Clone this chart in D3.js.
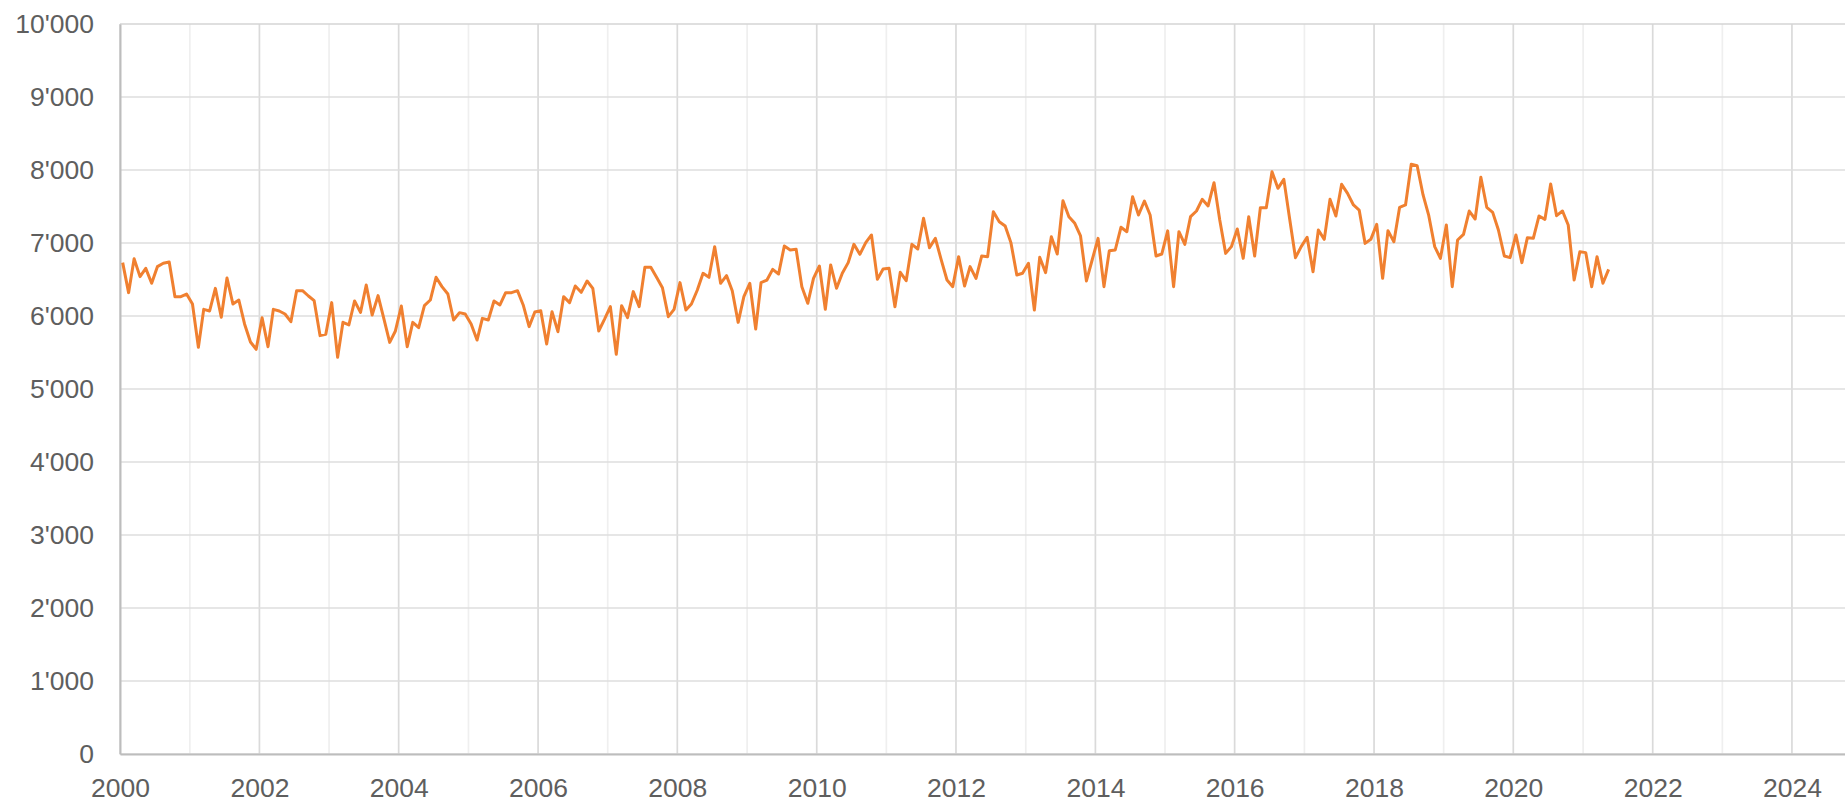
<!DOCTYPE html>
<html>
<head>
<meta charset="utf-8">
<script src="https://cdn.jsdelivr.net/npm/d3@7"></script>
<style>
  body { margin: 0; background: #fff; }
  svg { display: block; }
  text { font-family: "Liberation Sans", Arial, sans-serif; fill: #5e5e5e; }
</style>
</head>
<body>
<svg id="chart" width="1845" height="803"></svg>
<script>
// valori mensili, da gennaio 2000 a maggio 2021
var startYear = 2000;
var valori = [
  6731, 6320, 6785, 6539, 6653, 6448, 6676, 6722, 6740, 6265, 6265, 6301,
  6164, 5571, 6091, 6069, 6379, 5982, 6521, 6164, 6219, 5891, 5644, 5544,
  5977, 5580, 6091, 6069, 6027, 5922, 6347, 6347, 6274, 6210, 5731, 5749,
  6183, 5434, 5913, 5877, 6206, 6050, 6425, 6014, 6279, 5968, 5639, 5795,
  6137, 5580, 5913, 5840, 6142, 6219, 6530, 6402, 6301, 5945, 6046, 6027,
  5891, 5671, 5968, 5945, 6206, 6151, 6320, 6320, 6347, 6151, 5854, 6055,
  6073, 5617, 6059, 5785, 6265, 6183, 6411, 6324, 6480, 6379, 5795, 5954,
  6128, 5475, 6142, 5977, 6334, 6128, 6667, 6667, 6526, 6388, 5991, 6091,
  6457, 6082, 6164, 6356, 6585, 6530, 6950, 6448, 6553, 6347, 5913, 6265,
  6448, 5822, 6457, 6493, 6639, 6575, 6959, 6904, 6913, 6402, 6174, 6516,
  6685, 6091, 6699, 6379, 6585, 6731, 6982, 6845, 7005, 7110, 6502, 6644,
  6653, 6128, 6598, 6484, 6982, 6918, 7338, 6936, 7064, 6776, 6493, 6402,
  6813, 6411, 6676, 6516, 6822, 6813, 7429, 7292, 7233, 7005, 6562, 6585,
  6722, 6082, 6804, 6594, 7087, 6849, 7580, 7361, 7269, 7096, 6480, 6767,
  7064, 6402, 6895, 6904, 7215, 7155, 7635, 7384, 7575, 7384, 6822, 6849,
  7166, 6402, 7155, 6982, 7361, 7438, 7598, 7507, 7826, 7315, 6858, 6950,
  7192, 6790, 7361, 6822, 7484, 7484, 7977, 7749, 7872, 7338, 6799, 6950,
  7078, 6607, 7178, 7050, 7598, 7370, 7804, 7680, 7521, 7452, 6995, 7050,
  7255, 6516, 7169, 7018, 7489, 7521, 8078, 8059, 7658, 7374, 6950, 6790,
  7247, 6402, 7041, 7119, 7438, 7329, 7900, 7489, 7420, 7178, 6822, 6799,
  7110, 6731, 7073, 7064, 7370, 7324, 7808, 7374, 7438, 7247, 6493, 6881,
  6868, 6402, 6813, 6448, 6639
];
var anniTick = [2000, 2002, 2004, 2006, 2008, 2010, 2012, 2014, 2016, 2018, 2020, 2022, 2024];
var valoriTick = [0, 1000, 2000, 3000, 4000, 5000, 6000, 7000, 8000, 9000, 10000];

var dati = valori.map(function (v, i) {
  return { data: new Date(startYear + Math.floor(i / 12), i % 12, 15), valore: v };
});

// margini del grafico
var margineSx = 120, margineSu = 24, margineGiu = 754;
var svg = d3.select("#chart");

var x = d3.scaleTime()
  .domain([new Date(2000, 0, 1), new Date(2025, 0, 1)])
  .range([margineSx, margineSx + 25 * 69.67]);
var y = d3.scaleLinear().domain([0, 10000]).range([margineGiu, margineSu]);

var locale = d3.formatLocale({ decimal: ".", thousands: "'", grouping: [3], currency: ["", ""] });
var fmt = locale.format(",d");

// griglia verticale: anni pari piu scuri
var anni = d3.range(2000, 2026);
svg.append("g").selectAll("line")
  .data(anni)
  .enter().append("line")
  .attr("x1", function (d) { return x(new Date(d, 0, 1)); })
  .attr("x2", function (d) { return x(new Date(d, 0, 1)); })
  .attr("y1", margineSu).attr("y2", margineGiu)
  .attr("stroke", function (d) { return d % 2 == 0 ? "#dadada" : "#efefef"; })
  .attr("stroke-width", 1.7);

// griglia orizzontale
svg.append("g").selectAll("line")
  .data(valoriTick)
  .enter().append("line")
  .attr("x1", margineSx).attr("x2", 1845)
  .attr("y1", function (d) { return y(d); })
  .attr("y2", function (d) { return y(d); })
  .attr("stroke", function (d) { return d == 10000 ? "#d4d4d4" : "#dedede"; })
  .attr("stroke-width", 1.7);

// asse y
var assey = svg.append("g")
  .attr("transform", "translate(" + margineSx + ",0)")
  .call(d3.axisLeft(y).tickValues(valoriTick).tickFormat(fmt).tickSize(0).tickPadding(26));
assey.select(".domain").attr("stroke", "#bdbdbd").attr("stroke-width", 2);
assey.selectAll("text").attr("font-size", 26.5).attr("fill", "#5e5e5e")
  .attr("font-family", "Liberation Sans, Arial, sans-serif");

// asse x
var assex = svg.append("g")
  .attr("transform", "translate(0," + margineGiu + ")")
  .call(d3.axisBottom(x)
    .tickValues(anniTick.map(function (a) { return new Date(a, 0, 1); }))
    .tickFormat(d3.timeFormat("%Y")).tickSize(0).tickPadding(24));
assex.select(".domain").attr("stroke", "#bdbdbd").attr("stroke-width", 2);
assex.selectAll("text").attr("font-size", 26.5).attr("fill", "#5e5e5e")
  .attr("font-family", "Liberation Sans, Arial, sans-serif");

// linea dei dati
var linea = d3.line()
  .x(function (d) { return x(d.data); })
  .y(function (d) { return y(d.valore); });

svg.append("path")
  .datum(dati)
  .attr("d", linea)
  .attr("fill", "none")
  .attr("stroke", "#f08030")
  .attr("stroke-width", 3)
  .attr("stroke-linejoin", "round");
</script>
</body>
</html>
